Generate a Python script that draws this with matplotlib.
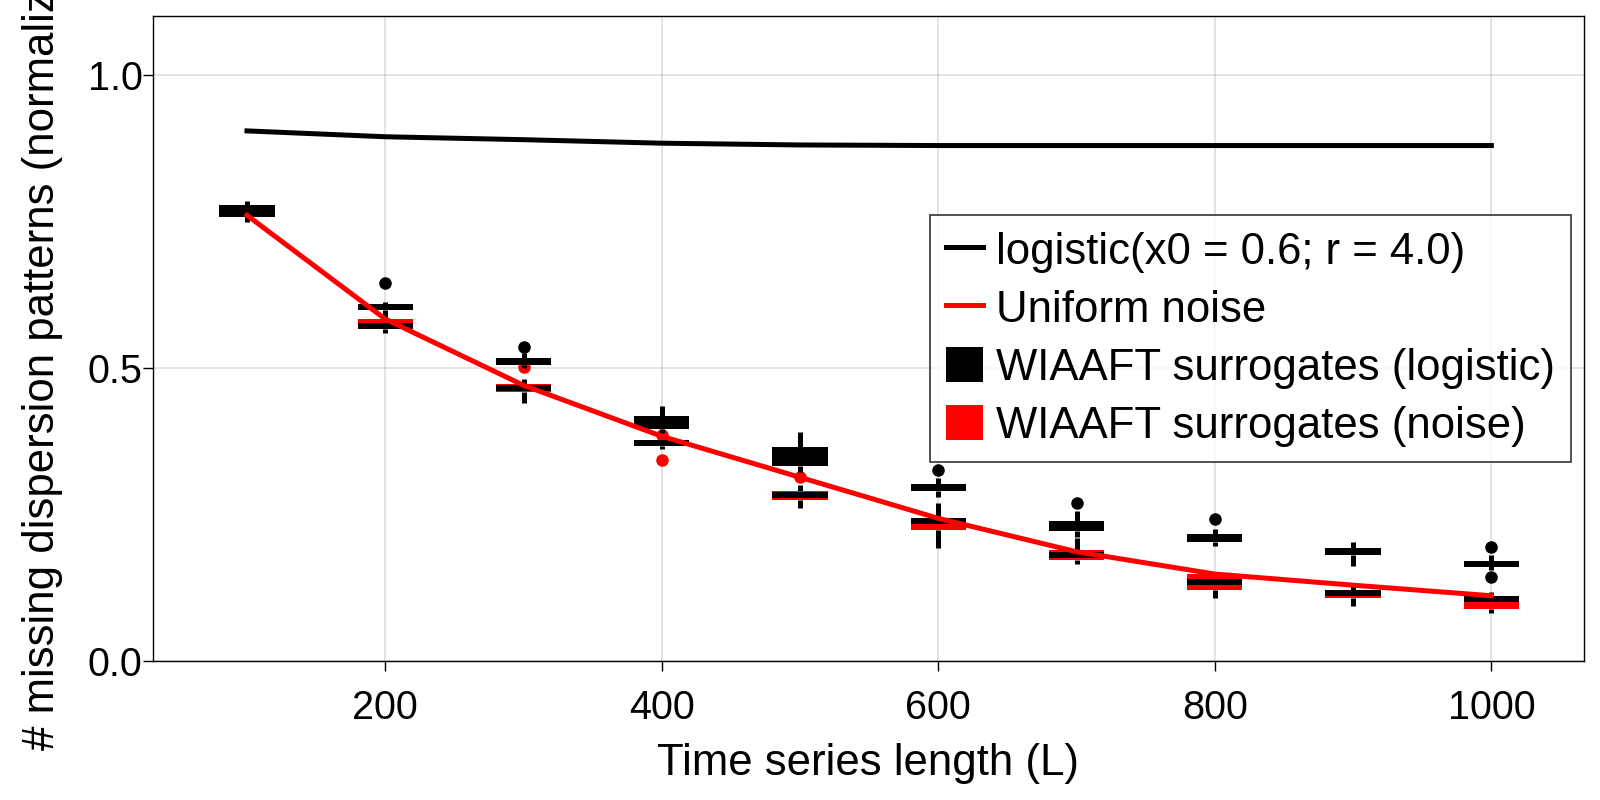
import matplotlib
matplotlib.use("Agg")
import matplotlib.pyplot as plt
from matplotlib.lines import Line2D
from matplotlib.patches import Patch

plt.rcParams['font.family'] = ['Liberation Sans', 'DejaVu Sans']

# time series lengths
L = [100, 200, 300, 400, 500, 600, 700, 800, 900, 1000]

# mean curves
logistic_line = [0.904, 0.894, 0.889, 0.883, 0.880, 0.879, 0.879, 0.879, 0.879, 0.879]
noise_line = [0.760, 0.583, 0.470, 0.383, 0.313, 0.243, 0.186, 0.148, 0.129, 0.111]

# WIAAFT surrogates (logistic): whisker low, q1, median, q3, whisker high, outliers
logi_lo = [0.752, 0.585, 0.500, 0.388, 0.322, 0.280, 0.212, 0.195, 0.162, 0.155]
logi_q1 = [0.763, 0.598, 0.504, 0.395, 0.332, 0.290, 0.222, 0.203, 0.180, 0.161]
logi_med = [0.770, 0.603, 0.510, 0.407, 0.350, 0.296, 0.230, 0.210, 0.186, 0.165]
logi_q3 = [0.778, 0.608, 0.516, 0.418, 0.365, 0.301, 0.238, 0.216, 0.193, 0.169]
logi_hi = [0.785, 0.612, 0.525, 0.434, 0.390, 0.312, 0.255, 0.225, 0.203, 0.180]
logi_out = [[], [0.644], [0.536], [], [], [0.326], [0.270], [0.242], [], [0.194, 0.143]]

# WIAAFT surrogates (noise)
noise_lo = [0.749, 0.560, 0.439, 0.362, 0.261, 0.193, 0.165, 0.107, 0.093, 0.081]
noise_q1 = [0.757, 0.566, 0.458, 0.366, 0.275, 0.223, 0.172, 0.120, 0.107, 0.089]
noise_med = [0.762, 0.571, 0.465, 0.371, 0.283, 0.239, 0.180, 0.134, 0.115, 0.106]
noise_q3 = [0.765, 0.583, 0.472, 0.376, 0.290, 0.243, 0.189, 0.148, 0.120, 0.108]
noise_hi = [0.770, 0.585, 0.480, 0.381, 0.300, 0.269, 0.210, 0.152, 0.132, 0.118]
noise_out = [[], [], [0.502], [0.386, 0.343], [0.314], [], [], [], [], []]


def make_stats(lo, q1, med, q3, hi, out):
    return [dict(whislo=a, q1=b, med=c, q3=d, whishi=e, fliers=f)
            for a, b, c, d, e, f in zip(lo, q1, med, q3, hi, out)]


fig = plt.figure(figsize=(16, 8), dpi=100)
ax = fig.add_axes([0.0956, 0.174, 0.8944, 0.806])

for stats, col, z in [(make_stats(noise_lo, noise_q1, noise_med, noise_q3, noise_hi, noise_out), 'red', 3),
                      (make_stats(logi_lo, logi_q1, logi_med, logi_q3, logi_hi, logi_out), 'black', 4)]:
    ax.bxp(stats, positions=L, widths=40, patch_artist=True, showcaps=False,
           manage_ticks=False,
           boxprops=dict(facecolor=col, edgecolor=col, linewidth=0, zorder=z),
           medianprops=dict(color='black', linewidth=4.3, solid_capstyle='butt', zorder=z + 0.1),
           whiskerprops=dict(color='black', linewidth=3.6, solid_capstyle='butt', zorder=z - 0.5),
           flierprops=dict(marker='o', markerfacecolor=col, markeredgecolor=col,
                           markersize=8, zorder=z))

ax.plot(L, logistic_line, color='black', linewidth=3.6, zorder=6)
ax.plot(L, noise_line, color='red', linewidth=3.6, zorder=6)

ax.set_xlim(32, 1067)
ax.set_ylim(0, 1.1)
ax.set_xticks([200, 400, 600, 800, 1000])
ax.set_yticks([0.0, 0.5, 1.0])
ax.set_yticklabels(['0.0', '0.5', '1.0'])
ax.grid(True, color='black', alpha=0.12, linewidth=1.3, zorder=0)
ax.set_axisbelow(True)
ax.tick_params(labelsize=28.5, length=7, width=1, direction='out')
ax.tick_params(axis='x', pad=13.5)
ax.tick_params(axis='y', pad=0.5)
for s in ax.spines.values():
    s.set_linewidth(1)

ax.set_xlabel('Time series length (L)', fontsize=31.5)
ax.set_ylabel('# missing dispersion patterns (normalized)', fontsize=31.5)
ax.xaxis.set_label_coords(0.5, -0.128)
ax.yaxis.set_label_coords(-0.063, 0.5)

handles = [Line2D([], [], color='black', linewidth=3.6),
           Line2D([], [], color='red', linewidth=3.6),
           Patch(facecolor='black', edgecolor='none'),
           Patch(facecolor='red', edgecolor='none')]
labels = ['logistic(x0 = 0.6; r = 4.0)', 'Uniform noise',
          'WIAAFT surrogates (logistic)', 'WIAAFT surrogates (noise)']
leg = fig.legend(handles, labels, loc='upper right', bbox_to_anchor=(1571 / 1600, 585 / 800),
                 fontsize=31.5, frameon=True, fancybox=False, borderaxespad=0,
                 handlelength=0.86, handleheight=0.87, handletextpad=0.3,
                 labelspacing=0.37, borderpad=0.36)
leg.get_frame().set_edgecolor('black')
leg.get_frame().set_linewidth(1.2)

fig.savefig('out.png', dpi=100)
